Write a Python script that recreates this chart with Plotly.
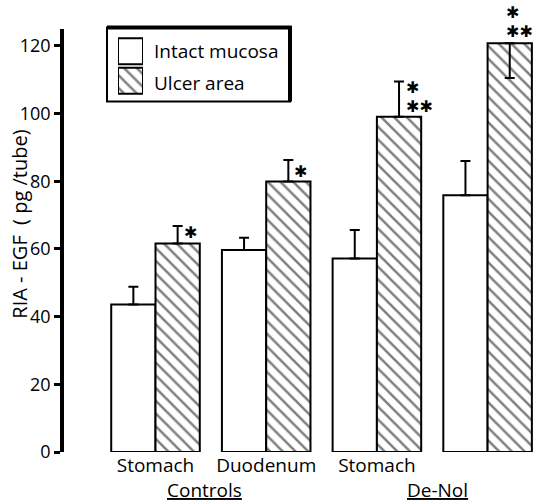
import plotly.graph_objects as go

# ---------------- data ----------------
categories = ["Stomach", "Duodenum", "Stomach", "Duodunum"]
groups = ["Controls", "De-Nol"]
intact_values = [43.6, 59.7, 57.2, 75.9]
intact_err_up = [5.2, 3.6, 8.4, 10.1]
ulcer_values = [61.6, 79.9, 99.1, 120.8]
ulcer_err_up = [5.2, 6.4, 10.4, 0.0]
ulcer_err_down = [0.0, 0.0, 0.0, 10.3]
ulcer_sig = ["✱", "✱", "✱|✱✱", "✱|✱✱"]
y_ticks = [0, 20, 40, 60, 80, 100, 120]

# ---------------- geometry helpers ----------------
W, H = 538, 504
ML, MR, MT = 64, 0, 29
Y_MAX = 125
PX_PER_UNIT = 3.381
plot_h = Y_MAX * PX_PER_UNIT
MB = H - MT - plot_h
plot_w = W - ML - MR
X_SCALE = 110.7
X0 = (ML - 155.5) / X_SCALE
X1 = X0 + plot_w / X_SCALE


def px_x(p):
    return (p - ML) / plot_w


def px_y(p):
    return (H - MB - p) / plot_h


FONT = "Open Sans"
xs = list(range(len(categories)))
BAR_W = 0.4
HATCH = dict(shape="\\", size=9, solidity=0.28, fgcolor="black", bgcolor="white")

fig = go.Figure()
fig.add_trace(go.Bar(
    x=xs, y=intact_values, width=BAR_W, offset=-BAR_W,
    marker=dict(color="white", line=dict(color="black", width=2)),
    error_y=dict(type="data", symmetric=False, array=intact_err_up,
                 arrayminus=[0] * len(intact_values),
                 color="black", thickness=2, width=5),
    showlegend=False,
))
fig.add_trace(go.Bar(
    x=xs, y=ulcer_values, width=BAR_W, offset=0,
    marker=dict(color="white", line=dict(color="black", width=2), pattern=HATCH),
    error_y=dict(type="data", symmetric=False, array=ulcer_err_up,
                 arrayminus=ulcer_err_down,
                 color="black", thickness=2, width=5),
    showlegend=False,
))

# legend swatches on an overlay axis pair
fig.add_trace(go.Bar(
    y=[1], x=[1], orientation="h", width=0.88, xaxis="x2", yaxis="y2",
    marker=dict(color="white", line=dict(color="black", width=2)),
    showlegend=False, hoverinfo="skip",
))
fig.add_trace(go.Bar(
    y=[0], x=[1], orientation="h", width=0.88, xaxis="x2", yaxis="y2",
    marker=dict(color="white", line=dict(color="black", width=2), pattern=HATCH),
    showlegend=False, hoverinfo="skip",
))

annotations = []
# significance stars: (xshift, yshift, xanchor) per ulcer bar
star_place = [(13, 11, "center"), (12, 10, "center"), (5, 20, "left"), (-6, 21, "left")]
for i, sig in enumerate(ulcer_sig):
    dx, dy, xa = star_place[i]
    lines = ['<span style="font-size:16px">%s</span>' % s for s in sig.split("|")]
    annotations.append(dict(
        x=xs[i] + BAR_W / 2, y=ulcer_values[i], xref="x", yref="y",
        text="<br>".join(lines), showarrow=False, xanchor=xa, yanchor="middle",
        align="left", xshift=dx, yshift=dy,
        font=dict(family="DejaVu Sans", size=14.6, color="black"),
    ))

# group labels
group_x = [0.446, 2.55]
for g, gx in zip(groups, group_x):
    annotations.append(dict(
        x=gx, y=px_y(490), xref="x", yref="paper", text="<u>%s</u>" % g,
        showarrow=False, xanchor="center", yanchor="middle",
        font=dict(family=FONT, size=19, color="black"),
    ))

# y-axis title
annotations.append(dict(
    x=px_x(19.5), y=px_y(224), xref="paper", yref="paper",
    text="RIA - EGF  ( pg /tube)", textangle=-90, showarrow=False,
    xanchor="center", yanchor="middle",
    font=dict(family=FONT, size=20, color="black"),
))

# legend texts
legend_labels = ["Intact mucosa", "Ulcer area"]
for lab, ty in zip(legend_labels, [50.5, 82.5]):
    annotations.append(dict(
        x=px_x(152), y=px_y(ty), xref="paper", yref="paper", text=lab,
        showarrow=False, xanchor="left", yanchor="middle",
        font=dict(family=FONT, size=19, color="black"),
    ))

shapes = [
    dict(type="rect", xref="paper", yref="paper",
         x0=px_x(107), x1=px_x(290), y0=px_y(101.5), y1=px_y(27.5),
         line=dict(color="black", width=2), fillcolor="rgba(0,0,0,0)"),
    dict(type="line", xref="paper", yref="paper",
         x0=px_x(107), x1=px_x(291.5), y0=px_y(27.5), y1=px_y(27.5),
         line=dict(color="black", width=4)),
    dict(type="line", xref="paper", yref="paper",
         x0=px_x(290), x1=px_x(290), y0=px_y(101.5), y1=px_y(26),
         line=dict(color="black", width=4)),
]

fig.update_layout(
    width=W, height=H,
    margin=dict(l=ML, r=MR, t=MT, b=MB, pad=0),
    paper_bgcolor="white", plot_bgcolor="white",
    barmode="overlay",
    font=dict(family=FONT, size=18, color="black"),
    xaxis=dict(range=[X0, X1], tickvals=xs, ticktext=categories,
               showline=False, showgrid=False, zeroline=False, ticks="",
               tickfont=dict(family=FONT, size=19, color="black")),
    yaxis=dict(range=[0, Y_MAX], tickvals=y_ticks, showline=True,
               linecolor="black", linewidth=3.5, ticks="outside", ticklen=6,
               tickwidth=2.5, tickcolor="black", showgrid=False, zeroline=False,
               tickfont=dict(family=FONT, size=18, color="black")),
    xaxis2=dict(domain=[px_x(118), px_x(143)], range=[0, 1], anchor="y2",
                visible=False, fixedrange=True),
    yaxis2=dict(domain=[px_y(95.5), px_y(36.5)], range=[-0.5, 1.5], anchor="x2",
                visible=False, fixedrange=True),
    annotations=annotations,
    shapes=shapes,
    showlegend=False,
)

fig.write_html("out.html")
